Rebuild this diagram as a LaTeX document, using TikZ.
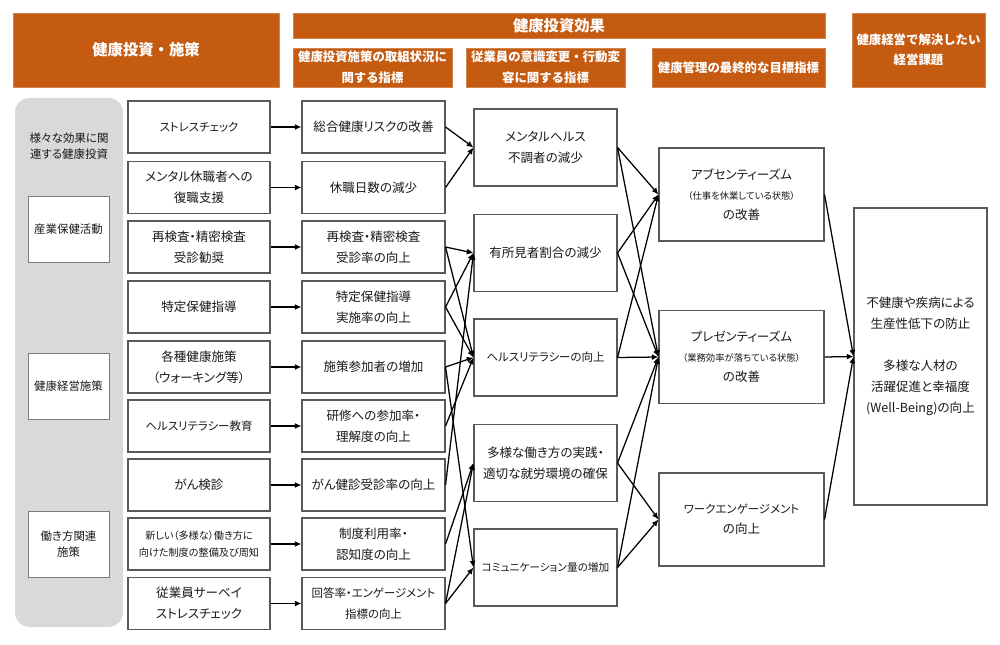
\documentclass[tikz,border=0pt]{standalone}
\usepackage{fontspec}
\setmainfont{Noto Sans CJK JP}[RawFeature=+palt]
\newfontfamily\hfont{Noto Sans CJK JP}
\usetikzlibrary{arrows.meta}
\definecolor{hdr}{HTML}{C55A11}
\definecolor{panelgray}{HTML}{D9D9D9}
\definecolor{bord}{HTML}{595959}
\definecolor{txt}{HTML}{1A1A1A}
\begin{document}
\begin{tikzpicture}[x=0.75pt,y=-0.75pt,
  hbox/.style={fill=hdr, draw=hdr!75!white, line width=0.4pt, text=white, align=center, inner sep=0pt},
  hbig/.style={hbox, font=\hfont\bfseries\fontsize{11.5}{15}\selectfont},
  hsub/.style={hbox, font=\hfont\bfseries\fontsize{9.3}{15.5}\selectfont},
  box/.style={draw=bord, line width=0.8pt, fill=white, align=center, inner sep=0pt, text=txt,
    font=\fontsize{9.4}{16}\selectfont},
  colA/.style={box, minimum width=106.5pt, minimum height=39pt},
  colB/.style={box, minimum width=107.25pt, minimum height=39pt},
  colC/.style={box, minimum width=107.25pt, minimum height=57.75pt},
  colD/.style={box, minimum width=123.75pt, minimum height=69.75pt, font=\fontsize{9.4}{15}\selectfont},
  colE/.style={box, minimum width=99.75pt, minimum height=222.75pt, font=\fontsize{9.4}{15.75}\selectfont},
  pbox/.style={draw=bord!80, line width=0.7pt, fill=white, align=center, inner sep=0pt, text=txt,
    minimum width=60.75pt, minimum height=49.5pt, font=\fontsize{8.6}{12}\selectfont},
  small/.style={font=\fontsize{7.6}{12.75}\selectfont},
  kata/.style={font=\fontsize{8.6}{16}\selectfont},
  arr/.style={-{Latex[length=5pt,width=4.5pt]}, line width=0.95pt, black}
]
\useasboundingbox (0,0) rectangle (1000,645);
\fill[white] (0,0) rectangle (1000,645);

% headers
\node[hbig, minimum width=199.5pt, minimum height=55.5pt] (h1) at (146,50) {健康投資・施策};
\node[hbig, minimum width=399pt, minimum height=18.75pt] (h2) at (559,25.5) {健康投資効果};
\node[hsub, minimum width=119.25pt, minimum height=29.25pt] (h3) at (372.5,67.5) {健康投資施策の取組状況に\\関する指標};
\node[hsub, minimum width=119.25pt, minimum height=29.25pt] (h4) at (545.5,67.5) {従業員の意識変更・行動変\\容に関する指標};
\node[hsub, minimum width=129.75pt, minimum height=29.25pt] (h5) at (738.5,67.5) {健康管理の最終的な目標指標};
\node[hsub, minimum width=99.75pt, minimum height=55.5pt, font=\hfont\bfseries\fontsize{9.3}{15}\selectfont] (h6) at (918.5,50) {健康経営で解決したい\\経営課題};

% left panel
\node[fill=panelgray, draw=none, rounded corners=11pt, minimum width=81pt, minimum height=396.75pt, inner sep=0pt] (panel) at (69,362.5) {};
\node[align=center, text=txt, font=\fontsize{8.6}{12}\selectfont] (plabel) at (69,146) {様々な効果に関\\連する健康投資};
\node[pbox] (p1) at (68.5,229) {産業保健活動};
\node[pbox] (p2) at (68.5,386) {健康経営施策};
\node[pbox] (p3) at (68.5,544) {働き方関連\\施策};

% column 1
\node[colA, kata] (a1) at (199,127) {ストレスチェック};
\node[colA] (a2) at (199,187.5) {メンタル休職者への\\復職支援};
\node[colA] (a3) at (199,247) {再検査・精密検査\\受診勧奨};
\node[colA] (a4) at (199,307) {特定保健指導};
\node[colA] (a5) at (199,367) {各種健康施策\\（ウォーキング等）};
\node[colA, kata] (a6) at (199,426) {ヘルスリテラシー教育};
\node[colA] (a7) at (199,485) {がん検診};
\node[colA, small] (a8) at (199,544) {新しい（多様な）働き方に\\向けた制度の整備及び周知};
\node[colA] (a9) at (199,603.5) {従業員サーベイ\\ストレスチェック};

% column 2
\node[colB] (b1) at (373.5,127) {総合健康リスクの改善};
\node[colB] (b2) at (373.5,187.5) {休職日数の減少};
\node[colB] (b3) at (373.5,247) {再検査・精密検査\\受診率の向上};
\node[colB] (b4) at (373.5,307) {特定保健指導\\実施率の向上};
\node[colB] (b5) at (373.5,367) {施策参加者の増加};
\node[colB] (b6) at (373.5,426) {研修への参加率・\\理解度の向上};
\node[colB] (b7) at (373.5,485) {がん健診受診率の向上};
\node[colB] (b8) at (373.5,544) {制度利用率・\\認知度の向上};
\node[colB, kata] (b9) at (373.5,603.5) {回答率・エンゲージメント\\指標の向上};

% column 3
\node[colC] (c1) at (545.5,147.5) {メンタルヘルス\\不調者の減少};
\node[colC] (c2) at (545.5,253) {有所見者割合の減少};
\node[colC, kata] (c3) at (545.5,357.5) {ヘルスリテラシーの向上};
\node[colC] (c4) at (545.5,463) {多様な働き方の実践・\\適切な就労環境の確保};
\node[colC, font=\fontsize{8}{16}\selectfont] (c5) at (545.5,567.5) {コミュニケーション量の増加};

% column 4
\node[colD] (d1) at (741.5,194.5) {アブセンティーズム\\{\fontsize{7}{15}\selectfont （仕事を休業している状態）}\\の改善};
\node[colD] (d2) at (741.5,357) {プレゼンティーズム\\{\fontsize{7}{15}\selectfont （業務効率が落ちている状態）}\\の改善};
\node[colD] (d3) at (741.5,519.5) {{\fontsize{8.6}{15}\selectfont ワークエンゲージメント}\\の向上};

% column 5
\node[colE] (e1) at (920.5,356.5) {不健康や疾病による\\生産性低下の防止\\\mbox{}\\多様な人材の\\活躍促進と幸福度\\(Well-Being)の向上};

% arrows col1 -> col2
\foreach \i in {1,...,9} { \draw[arr] (a\i.east) -- (b\i.west); }

% arrows col2 -> col3
\draw[arr] (b1.east) -- (c1.west);
\draw[arr] (b2.east) -- (c1.west);
\draw[arr] (b3.east) -- (c2.west);
\draw[arr] (b3.east) -- (c3.west);
\draw[arr] (b4.east) -- (c2.west);
\draw[arr] (b4.east) -- (c3.west);
\draw[arr] (b5.east) -- (c3.west);
\draw[arr] (b5.east) -- (c5.west);
\draw[arr] (b6.east) -- (c3.west);
\draw[arr] (b7.east) -- (c2.west);
\draw[arr] (b8.east) -- (c4.west);
\draw[arr] (b9.east) -- (c4.west);
\draw[arr] (b9.east) -- (c5.west);

% arrows col3 -> col4
\draw[arr] (c1.east) -- (d1.west);
\draw[arr] (c1.east) -- (d2.west);
\draw[arr] (c2.east) -- (d1.west);
\draw[arr] (c2.east) -- (d2.west);
\draw[arr] (c3.east) -- (d1.west);
\draw[arr] (c3.east) -- (d2.west);
\draw[arr] (c4.east) -- (d2.west);
\draw[arr] (c4.east) -- (d3.west);
\draw[arr] (c5.east) -- (d2.west);
\draw[arr] (c5.east) -- (d3.west);

% arrows col4 -> col5
\draw[arr] (d1.east) -- (e1.west);
\draw[arr] (d2.east) -- (e1.west);
\draw[arr] (d3.east) -- (e1.west);
\end{tikzpicture}
\end{document}
